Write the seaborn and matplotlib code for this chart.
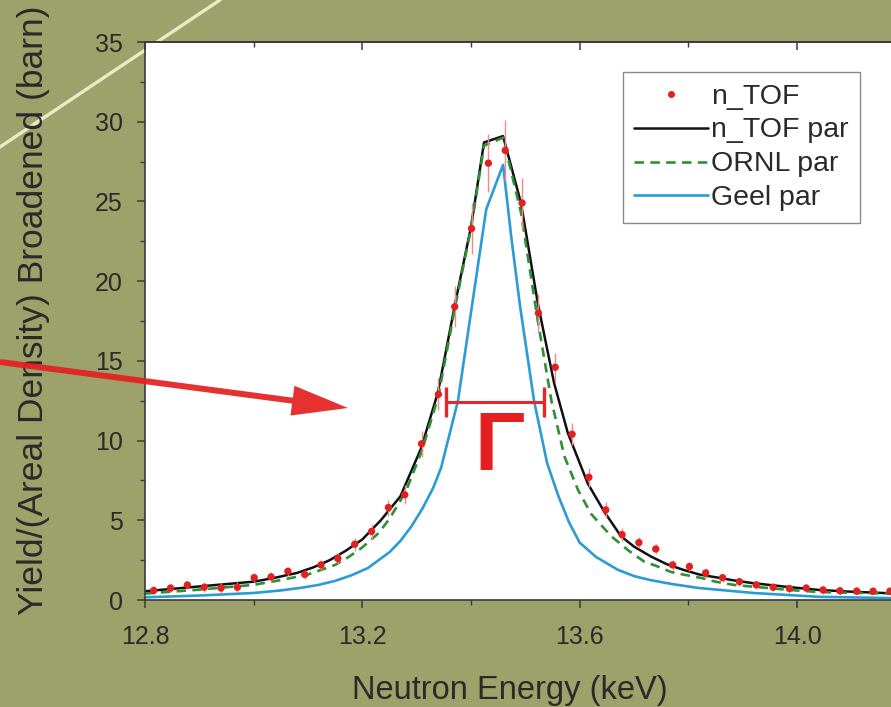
import matplotlib
matplotlib.use("Agg")
import matplotlib.pyplot as plt
import seaborn as sns
from matplotlib.lines import Line2D
from matplotlib.patches import FancyArrow
from matplotlib.transforms import IdentityTransform
from matplotlib.ticker import MultipleLocator

# ---------------- data ----------------
# n_TOF measured points (keV, barn) with error bars
ntof_x = [12.816, 12.847, 12.878, 12.909, 12.940, 12.970, 13.001, 13.032, 13.063, 13.094,
          13.124, 13.155, 13.186, 13.217, 13.248, 13.278, 13.309, 13.340, 13.370, 13.401,
          13.432, 13.463, 13.494, 13.524, 13.555, 13.586, 13.617, 13.648, 13.678, 13.709,
          13.740, 13.771, 13.802, 13.832, 13.863, 13.894, 13.925, 13.956, 13.986, 14.017,
          14.048, 14.079, 14.110, 14.140, 14.171]
ntof_y = [0.60, 0.75, 0.94, 0.80, 0.75, 0.80, 1.40, 1.45, 1.80, 1.60,
          2.20, 2.60, 3.50, 4.30, 5.80, 6.60, 9.80, 12.90, 18.40, 23.30,
          27.40, 28.20, 24.90, 18.00, 14.60, 10.40, 7.70, 5.65, 4.10, 3.60,
          3.20, 2.20, 2.10, 1.70, 1.40, 1.15, 0.95, 0.80, 0.72, 0.75,
          0.63, 0.58, 0.56, 0.55, 0.55]
ntof_err = [0.25, 0.25, 0.25, 0.3, 0.3, 0.3, 0.3, 0.3, 0.3, 0.3,
            0.3, 0.35, 0.4, 0.45, 0.5, 0.6, 0.8, 1.0, 1.3, 1.6,
            1.8, 1.9, 1.6, 1.2, 0.9, 0.7, 0.6, 0.5, 0.4, 0.35,
            0.3, 0.3, 0.3, 0.3, 0.25, 0.25, 0.25, 0.25, 0.25, 0.25,
            0.25, 0.25, 0.25, 0.25, 0.25]

# n_TOF parametrisation (black)
par_ntof_x = [12.80, 12.90, 12.95, 13.00, 13.04, 13.08, 13.11, 13.14, 13.17, 13.20,
              13.234, 13.27, 13.308, 13.339, 13.372, 13.40, 13.424, 13.459, 13.492, 13.523,
              13.553, 13.578, 13.615, 13.646, 13.676, 13.70, 13.73, 13.76, 13.79, 13.82,
              13.855, 13.88, 13.916, 13.98, 14.04, 14.10, 14.173]
par_ntof_y = [0.55, 0.85, 1.0, 1.15, 1.4, 1.7, 2.05, 2.5, 3.1, 3.8,
              5.0, 6.5, 9.5, 13.0, 18.8, 23.4, 28.7, 29.1, 24.9, 18.6,
              13.6, 10.5, 7.3, 5.5, 4.0, 3.35, 2.75, 2.25, 1.9, 1.6,
              1.4, 1.25, 1.07, 0.83, 0.63, 0.52, 0.42]

# ORNL parametrisation (green dashed)
par_ornl_x = [12.80, 12.90, 13.00, 13.05, 13.10, 13.125, 13.15, 13.175, 13.20, 13.23,
              13.25, 13.28, 13.31, 13.34, 13.372, 13.40, 13.424, 13.459, 13.492, 13.523,
              13.548, 13.572, 13.597, 13.621, 13.658, 13.69, 13.719, 13.74, 13.768, 13.79,
              13.824, 13.85, 13.885, 13.947, 13.99, 14.04, 14.10, 14.173]
par_ornl_y = [0.4, 0.65, 0.95, 1.25, 1.6, 1.9, 2.2, 2.7, 3.3, 4.2,
              5.1, 6.8, 9.4, 12.8, 18.6, 23.3, 28.5, 29.0, 24.3, 17.5,
              12.5, 9.0, 6.9, 5.4, 4.0, 3.1, 2.4, 2.15, 1.76, 1.6,
              1.38, 1.15, 0.94, 0.75, 0.62, 0.5, 0.45, 0.4]

# Geel parametrisation (blue)
par_geel_x = [12.80, 12.90, 13.00, 13.05, 13.09, 13.12, 13.15, 13.18, 13.21, 13.25,
              13.27, 13.29, 13.31, 13.33, 13.345, 13.376, 13.402, 13.428, 13.459, 13.474,
              13.49, 13.516, 13.54, 13.56, 13.58, 13.60, 13.63, 13.67, 13.70, 13.73,
              13.77, 13.82, 13.92, 14.04, 14.173]
par_geel_y = [0.17, 0.28, 0.44, 0.6, 0.78, 0.95, 1.2, 1.55, 2.0, 3.0,
              3.7, 4.6, 5.7, 7.0, 8.3, 12.5, 18.5, 24.5, 27.3, 22.8,
              18.5, 12.5, 8.6, 6.6, 4.9, 3.6, 2.7, 1.9, 1.5, 1.25,
              1.0, 0.75, 0.44, 0.2, 0.12]

labels = ["n_TOF", "n_TOF par", "ORNL par", "Geel par"]
x_ticks = [12.8, 13.2, 13.6, 14.0]
x_ticklabels = ["12.8", "13.2", "13.6", "14.0"]
y_ticks = [0, 5, 10, 15, 20, 25, 30, 35]

# width annotation (Gamma bracket)
gamma_left, gamma_right, gamma_y = 13.354, 13.535, 12.42

# ---------------- styling ----------------
BG = "#9da26a"
RED = "#e41f1f"
sns.set_theme(style="ticks")
plt.rcParams["font.family"] = ["Liberation Sans", "DejaVu Sans"]

fig = plt.figure(figsize=(8.91, 7.07), dpi=100)
fig.patch.set_facecolor(BG)

# faint diagonal slide decoration behind the axes
fig.add_artist(Line2D([0, 220], [707 - 147, 707], transform=IdentityTransform(),
                      color="#e6edc6", lw=2.4, zorder=-1))

ax = fig.add_axes([145 / 891, 107 / 707, 746 / 891, 558 / 707])
ax.set_facecolor("white")

sns.lineplot(x=par_geel_x, y=par_geel_y, ax=ax, color="#2b9bd6", lw=1.9,
             sort=False, estimator=None, zorder=2)
sns.lineplot(x=par_ornl_x, y=par_ornl_y, ax=ax, color="#2f8f35", lw=1.9,
             linestyle=(0, (3.6, 2.4)), sort=False, estimator=None, zorder=2.2)
sns.lineplot(x=par_ntof_x, y=par_ntof_y, ax=ax, color="#111111", lw=1.8,
             sort=False, estimator=None, zorder=2.1)
ax.errorbar(ntof_x, ntof_y, yerr=ntof_err, fmt="none", ecolor="#f28a8a",
            elinewidth=1.0, zorder=3)
sns.scatterplot(x=ntof_x, y=ntof_y, ax=ax, color=RED, s=28, edgecolor="none",
                zorder=4)

# Gamma bracket and symbol
ax.hlines(gamma_y, gamma_left, gamma_right, color="#e8262a", lw=2.2, zorder=5)
ax.vlines([gamma_left, gamma_right], gamma_y - 0.95, gamma_y + 0.95,
          color="#e8262a", lw=2.4, zorder=5)
ax.text((gamma_left + gamma_right) / 2 + 0.008, 8.15, "Γ", color=RED,
        fontsize=60, fontweight="bold", ha="center", va="baseline", zorder=5)

ax.set_xlim(12.8, 14.173)
ax.set_ylim(0, 35)
ax.set_xticks(x_ticks)
ax.set_xticklabels(x_ticklabels)
ax.set_yticks(y_ticks)
ax.xaxis.set_minor_locator(MultipleLocator(0.2))
ax.yaxis.set_minor_locator(MultipleLocator(2.5))

spine_col = "#3a3a3a"
for s in ["left", "bottom", "top"]:
    ax.spines[s].set_visible(True)
    ax.spines[s].set_color(spine_col)
    ax.spines[s].set_linewidth(1.2)
ax.spines["right"].set_visible(False)

ax.tick_params(which="major", direction="out", length=6, width=1.1,
               color=spine_col, labelsize=18, labelcolor="#2a2a2a")
ax.tick_params(axis="x", which="major", pad=12)
ax.tick_params(axis="y", which="major", pad=10)
ax.tick_params(which="minor", direction="out", length=3.5, width=1.0,
               color=spine_col)

sec = ax.secondary_xaxis("top")
sec.set_xticks(x_ticks)
sec.xaxis.set_minor_locator(MultipleLocator(0.2))
sec.tick_params(which="both", direction="in", labeltop=False, color=spine_col)
sec.tick_params(which="major", length=6, width=1.1)
sec.tick_params(which="minor", length=3.5, width=1.0)
sec.spines["top"].set_color(spine_col)
sec.spines["top"].set_linewidth(1.2)

ax.set_xlabel("Neutron Energy (keV)", fontsize=23.5, color="#2a2a2a")
ax.set_ylabel("Yield/(Areal Density) Broadened (barn)", fontsize=25.5, color="#2a2a2a")
ax.xaxis.set_label_coords(0.489, -0.135)
ax.yaxis.set_label_coords(-0.128, 0.52)

handles = [
    Line2D([], [], ls="none", marker="o", ms=5, color=RED, markeredgewidth=0),
    Line2D([], [], color="#111111", lw=1.8),
    Line2D([], [], color="#2f8f35", lw=1.9, ls=(0, (3.6, 2.4))),
    Line2D([], [], color="#2b9bd6", lw=1.9),
]
leg = ax.legend(handles, labels, loc="upper right", bbox_to_anchor=(0.958, 0.946),
                borderaxespad=0, fontsize=20.5, frameon=True, fancybox=False,
                edgecolor="#8a8a8a", framealpha=1, labelspacing=0.28,
                handlelength=2.6, handletextpad=0.1, borderpad=0.4)
leg.get_frame().set_linewidth(1.0)
for t in leg.get_texts():
    t.set_color("#2a2a2a")

# red pointer arrow (slide annotation), pixel coordinates
fig.add_artist(FancyArrow(0, 707 - 362, 348, -46, width=6, head_width=30,
                          head_length=56, length_includes_head=True,
                          transform=IdentityTransform(), color=RED, alpha=0.92,
                          lw=0, zorder=6))

fig.savefig("out.png", dpi=100, facecolor=fig.get_facecolor())
